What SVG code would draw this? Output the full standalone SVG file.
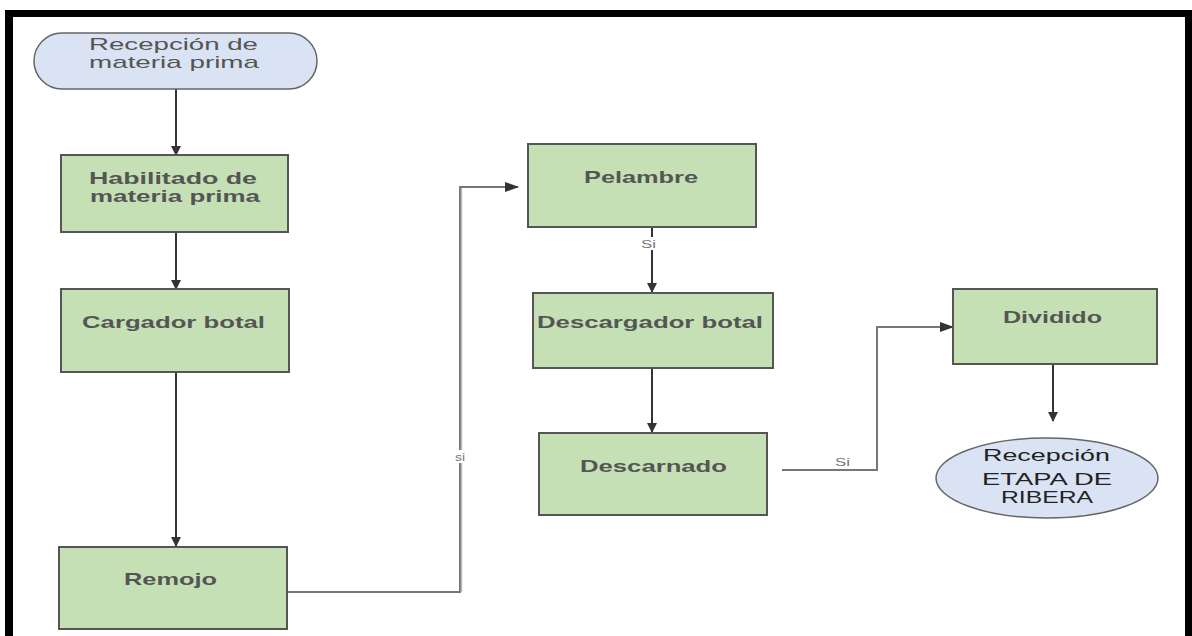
<svg xmlns="http://www.w3.org/2000/svg" width="1192" height="636" viewBox="0 0 1192 636">
<defs>
<marker id="ah" markerWidth="10" markerHeight="10" refX="9" refY="5" orient="auto" markerUnits="userSpaceOnUse">
<path d="M0,0 L10,5 L0,10 Z" fill="#333"/>
</marker>
<marker id="ah2" markerWidth="14" markerHeight="10" refX="13" refY="5" orient="auto" markerUnits="userSpaceOnUse">
<path d="M0,0 L14,5 L0,10 Z" fill="#333"/>
</marker>
</defs>
<style>
.box{fill:#c5e0b4;stroke:#555;stroke-width:2}
.term{fill:#dae3f3;stroke:#666;stroke-width:1.5}
.bt{font-family:"Liberation Sans",Arial,sans-serif;font-size:17px;font-weight:bold;fill:#555}
.tt{font-family:"Liberation Sans",Arial,sans-serif;font-size:17px;fill:#555}
.et{font-family:"Liberation Sans",Arial,sans-serif;font-size:17px;fill:#222}
.lbl{font-family:"Liberation Sans",Arial,sans-serif;font-size:10px;fill:#777}
.c{fill:none;stroke:#333;stroke-width:2}
.g{fill:none;stroke:#777;stroke-width:2}
</style>
<rect x="0" y="0" width="1192" height="636" fill="#fff"/>
<g id="frame">
<rect x="5" y="10" width="8" height="626" fill="#000"/>
<rect x="5" y="10" width="1187" height="7" fill="#000"/>
<rect x="1185" y="10" width="7" height="626" fill="#000"/>
</g>
<g id="connectors">
<line class="c" x1="176" y1="89" x2="176" y2="155" marker-end="url(#ah)"/>
<line class="c" x1="176" y1="232" x2="176" y2="289" marker-end="url(#ah)"/>
<line class="c" x1="176" y1="372" x2="176" y2="546" marker-end="url(#ah)"/>
<polyline class="g" points="287,592 460,592 460,187 518,187" marker-end="url(#ah2)"/>
<line x1="461.5" y1="592" x2="461.5" y2="188" stroke="#bbb" stroke-width="1.5"/>
<rect x="453" y="450" width="14" height="13" fill="#fff"/>
<text class="lbl" x="455" y="461" textLength="10" lengthAdjust="spacingAndGlyphs">si</text>
<line class="c" x1="652" y1="227" x2="652" y2="292" marker-end="url(#ah)"/>
<rect x="640" y="237" width="18" height="13" fill="#fff"/>
<text class="lbl" x="641" y="248" textLength="15" lengthAdjust="spacingAndGlyphs">Si</text>
<line class="c" x1="652" y1="368" x2="652" y2="432" marker-end="url(#ah)"/>
<polyline class="g" points="782,470 877,470 877,327 953,327" marker-end="url(#ah2)"/>
<text class="lbl" x="835" y="466" textLength="15" lengthAdjust="spacingAndGlyphs">Si</text>
<line class="c" x1="1053" y1="364" x2="1053" y2="421" marker-end="url(#ah)"/>
</g>
<g id="n-recepcion">
<rect class="term" x="34" y="33" width="283" height="56" rx="28" ry="28"/>
<text class="tt" x="89" y="50" textLength="169" lengthAdjust="spacingAndGlyphs">Recepción de</text>
<text class="tt" x="89" y="68" textLength="170" lengthAdjust="spacingAndGlyphs">materia prima</text>
</g>
<g id="n-habilitado">
<rect class="box" x="61" y="155" width="227" height="77"/>
<text class="bt" x="89" y="184" textLength="168" lengthAdjust="spacingAndGlyphs">Habilitado de</text>
<text class="bt" x="90" y="202" textLength="170" lengthAdjust="spacingAndGlyphs">materia prima</text>
</g>
<g id="n-cargador">
<rect class="box" x="61" y="289" width="228" height="83"/>
<text class="bt" x="82" y="328" textLength="183" lengthAdjust="spacingAndGlyphs">Cargador botal</text>
</g>
<g id="n-remojo">
<rect class="box" x="59" y="547" width="228" height="82"/>
<text class="bt" x="124" y="585" textLength="93" lengthAdjust="spacingAndGlyphs">Remojo</text>
</g>
<g id="n-pelambre">
<rect class="box" x="528" y="144" width="228" height="83"/>
<text class="bt" x="584" y="183" textLength="114" lengthAdjust="spacingAndGlyphs">Pelambre</text>
</g>
<g id="n-descargador">
<rect class="box" x="533" y="293" width="240" height="75"/>
<text class="bt" x="537" y="328" textLength="226" lengthAdjust="spacingAndGlyphs">Descargador botal</text>
</g>
<g id="n-descarnado">
<rect class="box" x="539" y="433" width="228" height="82"/>
<text class="bt" x="580" y="472" textLength="147" lengthAdjust="spacingAndGlyphs">Descarnado</text>
</g>
<g id="n-dividido">
<rect class="box" x="953" y="289" width="204" height="75"/>
<text class="bt" x="1003" y="323" textLength="99" lengthAdjust="spacingAndGlyphs">Dividido</text>
</g>
<g id="n-fin">
<ellipse class="term" cx="1047" cy="478" rx="111" ry="40"/>
<text class="et" x="983" y="461" textLength="127" lengthAdjust="spacingAndGlyphs">Recepción</text>
<text class="et" x="982" y="485" textLength="130" lengthAdjust="spacingAndGlyphs">ETAPA DE</text>
<text class="et" x="1001" y="503" textLength="92" lengthAdjust="spacingAndGlyphs">RIBERA</text>
</g>
</svg>
